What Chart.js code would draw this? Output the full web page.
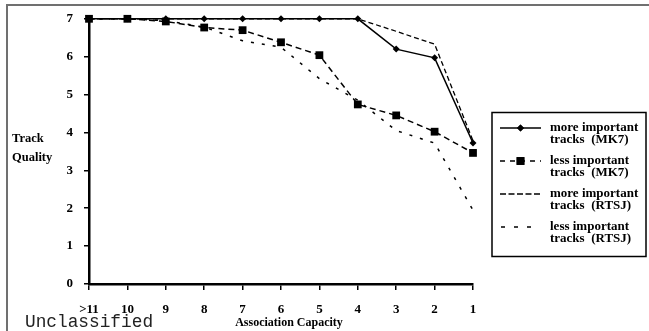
<!DOCTYPE html>
<html><head><meta charset="utf-8">
<script src="https://cdn.jsdelivr.net/npm/chart.js@4/dist/chart.umd.min.js"></script>
<style>html,body{margin:0;padding:0;background:#fff;overflow:hidden}#wrap{width:649px;height:331px;position:relative}</style>
</head><body><div id="wrap"><canvas id="c" width="649" height="331"></canvas></div>
<script>
// ---- data ----
const categories = ['>11','10','9','8','7','6','5','4','3','2','1'];
const mk7More  = [7, 7, 7,    7,    7,   7,    7,    7,    6.2,  5.97, 3.72];
const mk7Less  = [7, 7, 6.93, 6.77, 6.7, 6.38, 6.04, 4.74, 4.45, 4.02, 3.46];
const rtsjMore = [7, 7, 7,    7,    7,   7,    7,    7,    6.67, 6.33, 3.78];
const rtsjLess = [7, 7, 6.95, 6.78, 6.42,6.25, 5.42, 4.85, 4.05, 3.72, 1.95];
const seriesNames = [
  ['more important','tracks  (MK7)'],
  ['less important','tracks  (MK7)'],
  ['more important','tracks  (RTSJ)'],
  ['less important','tracks  (RTSJ)']
];
const yTitleLines = ['Track','Quality'];
const xTitle = 'Association Capacity';
const footerText = 'Unclassified';
const yMin = 0, yMax = 7, yStep = 1;

const serif = "'Liberation Serif', 'Times New Roman', serif";

const decor = {
  id: 'decor',
  beforeDraw(chart) {
    const ctx = chart.ctx;
    ctx.save();
    ctx.fillStyle = '#fff';
    ctx.fillRect(0, 0, chart.width, chart.height);
    ctx.strokeStyle = '#707070';
    ctx.lineWidth = 2;
    ctx.strokeRect(7, 5, 700, 400);
    ctx.restore();
  },
  afterDraw(chart) {
    const ctx = chart.ctx;
    ctx.save();
    ctx.fillStyle = '#000';
    ctx.font = "bold 12.5px " + serif;
    ctx.textAlign = 'left';
    ctx.textBaseline = 'alphabetic';
    ctx.fillText(yTitleLines[0], 12, 142);
    ctx.fillText(yTitleLines[1], 12, 161);
    ctx.font = "bold 12px " + serif;
    ctx.textAlign = 'center';
    const xs = chart.scales.x;
    ctx.fillText(xTitle, (xs.left + xs.right) / 2 + 8, 326);
    ctx.textAlign = 'left';
    ctx.font = "17.8px 'Liberation Mono', 'Courier New', monospace";
    ctx.fillStyle = '#222';
    ctx.fillText(footerText, 25, 327);

    // legend
    const x0 = 492, y0 = 112.5, w = 154, h = 144;
    ctx.fillStyle = '#fff';
    ctx.fillRect(x0, y0, w, h);
    ctx.strokeStyle = '#000';
    ctx.lineWidth = 1.5;
    ctx.strokeRect(x0, y0, w, h);
    const samples = [
      {dash: [], from: 500, to: 541},
      {dash: [5, 5], from: 500, to: 541},
      {dash: [6, 2.5], from: 500, to: 541},
      {dash: [4, 9], from: 501, to: 531}
    ];
    chart.data.datasets.forEach((ds, i) => {
      const cy = 128 + i * 33;
      const s = samples[i];
      ctx.strokeStyle = '#000';
      ctx.lineWidth = ds.borderWidth;
      ctx.setLineDash(s.dash);
      ctx.beginPath();
      ctx.moveTo(s.from, cy);
      ctx.lineTo(s.to, cy);
      ctx.stroke();
      ctx.setLineDash([]);
      if (ds.pointRadius > 0) {
        ctx.fillStyle = '#000';
        Chart.helpers.drawPoint(ctx, {pointStyle: ds.pointStyle, radius: ds.pointRadius, rotation: 0, borderWidth: 0}, 520.5, cy);
        ctx.fill();
      }
      ctx.fillStyle = '#000';
      ctx.font = "bold 13px " + serif;
      ctx.textBaseline = 'middle';
      ctx.fillText(seriesNames[i][0], 550, cy);
      ctx.fillText(seriesNames[i][1], 550, cy + 12);
    });
    ctx.restore();
  }
};

const tickFont = {family: serif, weight: 'bold', size: 13};

new Chart(document.getElementById('c'), {
  type: 'line',
  data: {
    labels: categories,
    datasets: [
      {label: seriesNames[0].join(' '), data: mk7More, borderColor: '#000', backgroundColor: '#000',
       borderWidth: 1.5, pointStyle: 'rectRot', pointRadius: 3.5, pointBorderWidth: 0, tension: 0, clip: false},
      {label: seriesNames[1].join(' '), data: mk7Less, borderColor: '#000', backgroundColor: '#000',
       borderWidth: 1.5, borderDash: [6, 4], pointStyle: 'rect', pointRadius: 5.5, pointBorderWidth: 0, tension: 0, clip: false},
      {label: seriesNames[2].join(' '), data: rtsjMore, borderColor: '#000', backgroundColor: '#000',
       borderWidth: 1.3, borderDash: [5, 3], pointRadius: 0, tension: 0, clip: false},
      {label: seriesNames[3].join(' '), data: rtsjLess, borderColor: '#000', backgroundColor: '#000',
       borderWidth: 1.5, borderDash: [3, 8], pointRadius: 0, tension: 0, clip: false}
    ]
  },
  options: {
    responsive: false,
    animation: false,
    events: [],
    layout: {padding: {left: 0, top: 16, right: 176, bottom: 0}},
    plugins: {legend: {display: false}, tooltip: {enabled: false}, title: {display: false}},
    scales: {
      x: {
        type: 'category',
        offset: false,
        grid: {display: true, drawOnChartArea: false, drawTicks: true, tickLength: 6, color: '#000', lineWidth: 1.5},
        border: {display: true, color: '#000', width: 2.5},
        ticks: {color: '#000', font: tickFont, padding: 12, maxRotation: 0, autoSkip: false},
        afterFit(s) { s.height = 47; }
      },
      y: {
        min: yMin, max: yMax,
        grid: {display: true, drawOnChartArea: false, drawTicks: true, tickLength: 5, color: '#000', lineWidth: 1.5},
        border: {display: true, color: '#000', width: 2.5},
        ticks: {color: '#000', font: tickFont, padding: 11, stepSize: yStep},
        afterFit(s) { s.width = 89; }
      }
    }
  },
  plugins: [decor]
});
</script>
</body></html>
